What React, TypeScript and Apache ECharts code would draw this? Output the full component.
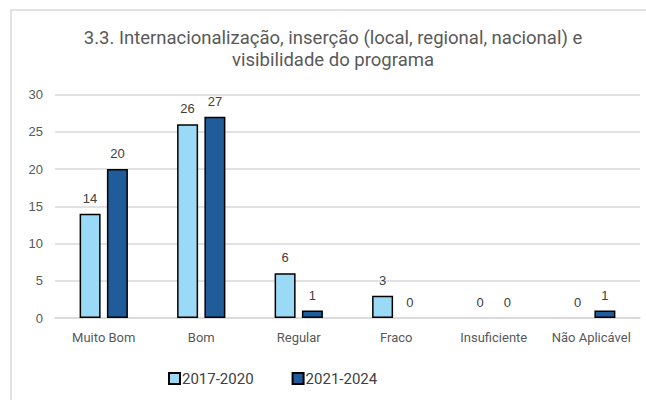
import React, { useEffect, useRef } from "react";
import * as echarts from "echarts";

const categories = ["Muito Bom", "Bom", "Regular", "Fraco", "Insuficiente", "Não Aplicável"];
const series2017 = [14, 26, 6, 3, 0, 0];
const series2021 = [20, 27, 1, 0, 0, 1];
const seriesNames = ["2017-2020", "2021-2024"];
const titleText = "3.3. Internacionalização, inserção (local, regional, nacional) e\nvisibilidade do programa";

const FONT = "Roboto, sans-serif";

function toData(values: number[]) {
  return values.map((v) => (v === 0 ? { value: v, itemStyle: { borderWidth: 0 } } : v));
}

export default function App() {
  const ref = useRef<HTMLDivElement>(null);
  useEffect(() => {
    if (!ref.current) return;
    const chart = echarts.init(ref.current, null, { renderer: "svg" });
    const label = {
      show: true,
      position: "top",
      distance: 9,
      color: "#404040",
      fontSize: 13,
      fontFamily: "'Liberation Sans', Arial, sans-serif",
    };
    chart.setOption({
      animation: false,
      backgroundColor: "#ffffff",
      graphic: [
        {
          type: "rect",
          shape: { x: 11, y: 10, width: 700, height: 450 },
          style: { fill: "none", stroke: "#d9d9d9", lineWidth: 1.5 },
          silent: true,
          z: -10,
        },
      ],
      title: {
        text: titleText,
        left: 328,
        textAlign: "center",
        top: 22,
        textStyle: {
          fontFamily: FONT,
          fontSize: 18.5,
          fontWeight: "normal",
          color: "#595959",
          lineHeight: 22,
        },
      },
      legend: {
        bottom: 9,
        left: 163,
        itemWidth: 11,
        itemHeight: 11,
        itemGap: 38,
        icon: "rect",
        textStyle: { fontFamily: FONT, fontSize: 15, color: "#404040", padding: [0, 0, 0, -3] },
        data: seriesNames,
      },
      grid: { left: 55, right: 6, top: 94.5, bottom: 82 },
      xAxis: {
        type: "category",
        data: categories,
        axisLine: { show: true, lineStyle: { color: "#d9d9d9", width: 1.5 } },
        axisTick: { show: false },
        axisLabel: { color: "#595959", fontSize: 13, fontFamily: FONT, margin: 13, interval: 0 },
      },
      yAxis: {
        type: "value",
        min: 0,
        max: 30,
        interval: 5,
        splitLine: { lineStyle: { color: "#d9d9d9", width: 1.5 } },
        axisLabel: { color: "#595959", fontSize: 13, fontFamily: "'Liberation Sans', Arial, sans-serif", margin: 12 },
      },
      series: [
        {
          name: seriesNames[0],
          type: "bar",
          data: toData(series2017),
          barWidth: 21,
          barGap: "30%",
          itemStyle: { color: "#9bdaf6", borderColor: "#000000", borderWidth: 1.5 },
          label,
        },
        {
          name: seriesNames[1],
          type: "bar",
          data: toData(series2021),
          barWidth: 21,
          itemStyle: { color: "#1f5c99", borderColor: "#000000", borderWidth: 1.5 },
          label,
        },
      ],
    });
    return () => chart.dispose();
  }, []);
  return (
    <div
      ref={ref}
      style={{ position: "fixed", left: 0, top: 0, width: 646, height: 400 }}
    />
  );
}
